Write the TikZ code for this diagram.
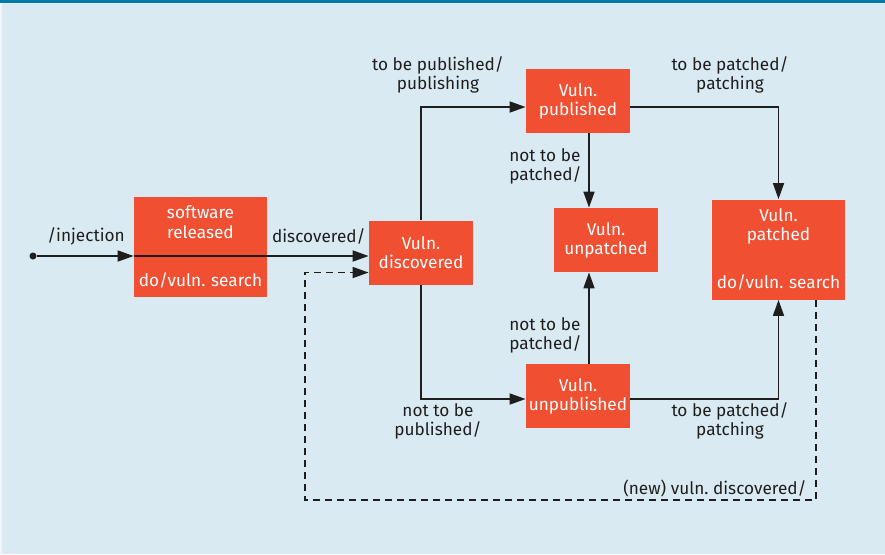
\documentclass[tikz,border=0pt]{standalone}
\usepackage{fontspec}
\setmainfont{Fira Sans}
\usetikzlibrary{arrows.meta}
\definecolor{panel}{RGB}{218,234,242}
\definecolor{topbar}{RGB}{0,121,166}
\definecolor{statered}{RGB}{240,79,50}
\definecolor{ink}{RGB}{30,30,30}
\frenchspacing
\begin{document}
\begin{tikzpicture}[x=0.5pt, y=-0.5pt]
% background
\useasboundingbox (0,0) rectangle (885,554);
\fill[panel] (0,0) rectangle (885,554);
\fill[white!55!panel] (0,0) rectangle (2,554);
\fill[topbar] (0,0) rectangle (885,3);

% definitions
\tikzstyle{state} = [rectangle, minimum width=52pt, minimum height=32pt, inner sep=0pt, text centered, fill=statered, text=white, text width=52pt, font=\fontsize{8.6}{9.6}\selectfont]

\tikzstyle{bigstate} = [state, minimum width=66.5pt, minimum height=50pt, text width=66.5pt]

\tikzstyle{guard} = [align=center, text=ink, inner sep=1pt, font=\fontsize{8.6}{9.6}\selectfont]

\tikzstyle{arrow} = [-{Triangle[length=8pt, width=5.5pt]}, line width=0.85pt, draw=ink]

% the states
\node (init) [circle, fill=ink, inner sep=0pt, minimum size=3.5pt] at (33,256) {};

\node (rel) [bigstate] at (200.5,247) {software\\released\\[14.5pt]do/vuln. search};

\node (disc) [state] at (421,252.5) {Vuln.\\discovered};

\node (pub) [state] at (578,101) {Vuln.\\published};

\node (unpat) [state] at (606,240) {Vuln.\\unpatched};

\node (unpub) [state] at (578,396) {Vuln.\\unpublished};

\node (pat) [bigstate] at (778.5,249.5) {Vuln.\\patched\\[14.5pt]do/vuln. search};

% helper points
\coordinate (mid) at (589,0);
\coordinate (back) at (816,500);
\coordinate (loop) at (305,500);

% transitions
\draw [arrow] (init) -- (init -| rel.west);
\draw [arrow] (init -| rel.west) -- (init -| disc.west);

\draw [arrow] (disc.north) |- ([yshift=-3pt]pub.west);
\draw [arrow] (disc.south) |- ([yshift=-1.5pt]unpub.west);

\draw [arrow] ([yshift=-3pt]pub.east) -| (pat.north);
\draw [arrow] ([yshift=-1.5pt]unpub.east) -| (pat.south);

\draw [arrow] (pub.south -| mid) -- (unpat.north -| mid);
\draw [arrow] (unpub.north -| mid) -- (unpat.south -| mid);

\draw [arrow, dash pattern=on 3.5pt off 2.5pt] (pat.south -| back) -- (back) -- (loop) |- ([yshift=-10pt]disc.west);

% labels
\node (linj) [guard] at (86,236) {/injection};
\node (ldisc) [guard, anchor=east] at (368,236) {discovered/};
\node (lpub) [guard] at (438,75) {to be published/\\publishing};
\node (lnpat1) [guard, align=left, anchor=east] at (584,166) {not to be\\patched/};
\node (lpat1) [guard] at (730,75) {to be patched/\\patching};
\node (lnpat2) [guard, align=left, anchor=east] at (584,335) {not to be\\patched/};
\node (lnpub) [guard] at (438,421) {not to be\\published/};
\node (lpat2) [guard] at (730,421) {to be patched/\\patching};
\node (lnew) [guard, anchor=east] at (809,488) {(new) vuln. discovered/};

\end{tikzpicture}
\end{document}
